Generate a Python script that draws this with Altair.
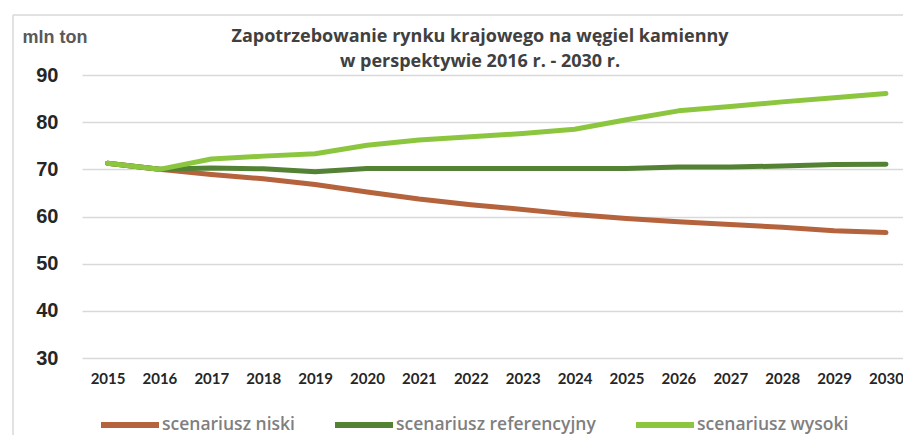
import altair as alt
import pandas as pd

years = [str(y) for y in range(2015, 2031)]
niski = [71.3, 70.0, 68.9, 68.0, 66.8, 65.2, 63.7, 62.5, 61.5, 60.4, 59.6, 58.9, 58.3, 57.7, 57.0, 56.6]
referencyjny = [71.3, 70.0, 70.3, 70.1, 69.5, 70.2, 70.2, 70.2, 70.2, 70.2, 70.2, 70.5, 70.5, 70.7, 71.0, 71.1]
wysoki = [71.3, 70.0, 72.2, 72.8, 73.3, 75.1, 76.2, 76.9, 77.6, 78.5, 80.5, 82.4, 83.3, 84.3, 85.2, 86.1]

series = ["scenariusz niski", "scenariusz referencyjny", "scenariusz wysoki"]
colors = ["#B5633C", "#548235", "#8CC63F"]
y_ticks = [30, 40, 50, 60, 70, 80, 90]
title_lines = ["Zapotrzebowanie rynku krajowego na węgiel kamienny", "w perspektywie 2016 r. - 2030 r."]

df = pd.DataFrame({"rok": years, series[0]: niski, series[1]: referencyjny, series[2]: wysoki})
long = df.melt(id_vars="rok", var_name="scenariusz", value_name="wartosc")

lines = alt.Chart(long).mark_line(strokeWidth=5, strokeCap="round", strokeJoin="round").encode(
    x=alt.X("rok:O", sort=years, title=None,
            scale=alt.Scale(padding=0.41, align=0.6),
            axis=alt.Axis(labelAngle=0, ticks=False, domain=False, grid=False,
                          labelFont="Lato", labelFontSize=15, labelFontWeight="bold",
                          labelColor="#262626", labelPadding=13)),
    y=alt.Y("wartosc:Q", title="mln ton",
            scale=alt.Scale(domain=[30, 90], nice=False, zero=False),
            axis=alt.Axis(values=y_ticks, ticks=False, domain=False,
                          grid=True, gridColor="#d9d9d9", gridWidth=1.5,
                          labelFont="Liberation Sans", labelFontSize=20, labelFontWeight="bold",
                          labelColor="#262626", labelPadding=24,
                          titleAngle=0, titleX=-60, titleY=-38, titleAlign="left",
                          titleBaseline="middle", titleFont="Liberation Sans",
                          titleFontSize=18, titleFontWeight="bold", titleColor="#595959")),
    color=alt.Color("scenariusz:N", sort=series,
                    scale=alt.Scale(domain=series, range=colors),
                    legend=alt.Legend(orient="none", legendX=16, legendY=318,
                                      direction="horizontal", title=None,
                                      symbolType="stroke", symbolSize=3364,
                                      symbolStrokeWidth=6, labelOffset=0,
                                      columnPadding=28, padding=0, labelLimit=400,
                                      labelFont="Open Sans", labelFontSize=17.5,
                                      labelFontWeight=600, labelColor="#7f7f7f")),
)

title_df = pd.DataFrame({"t": title_lines})


def title_text(i, ypos):
    return alt.Chart(title_df).transform_filter(
        alt.datum.t == title_lines[i]
    ).mark_text(font="Open Sans", fontSize=18, fontWeight="bold", color="#404040",
                align="center", baseline="alphabetic").encode(
        text="t:N", x=alt.value(398), y=alt.value(ypos)
    )


frame_df = pd.DataFrame({"frame": [0]})
frame_left = alt.Chart(frame_df).mark_rule(color="#d9d9d9", strokeWidth=1.5).encode(
    x=alt.value(-69), y=alt.value(-60), y2=alt.value(365))
frame_top = alt.Chart(frame_df).mark_rule(color="#d9d9d9", strokeWidth=1.5).encode(
    x=alt.value(-69), x2=alt.value(830), y=alt.value(-60))

chart = alt.layer(frame_left, frame_top, lines, title_text(0, -33), title_text(1, -8)).properties(
    width=821,
    height=283,
    padding={"left": 74, "top": 67, "right": 0, "bottom": 77},
    autosize=alt.AutoSizeParams(type="none"),
).configure_view(stroke=None)

chart.save("out.html", embed_options={"renderer": "svg", "actions": False})
